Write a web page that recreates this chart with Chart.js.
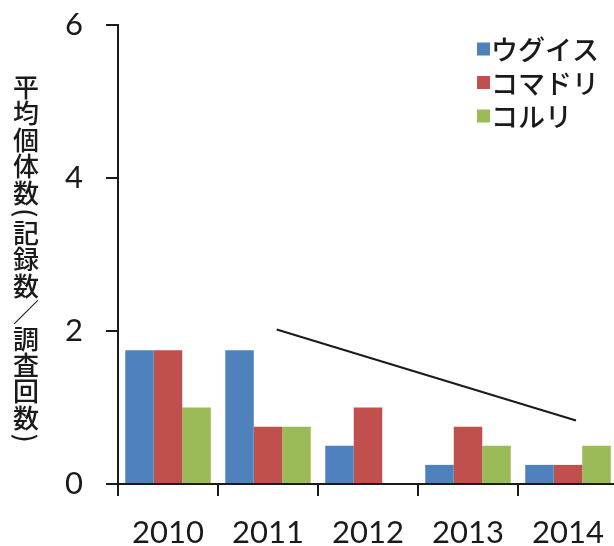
<!DOCTYPE html>
<html>
<head>
<meta charset="utf-8">
<script src="https://cdn.jsdelivr.net/npm/chart.js@4"></script>
<style>
  html, body { margin: 0; padding: 0; background: #fff; overflow: hidden; }
  #wrap { width: 614px; height: 546px; overflow: hidden; }
  canvas { display: block; }
</style>
</head>
<body>
<div id="wrap"><canvas id="c" width="620" height="546"></canvas></div>
<script>
// Survey years and average counts per survey for each species
const years = ['2010', '2011', '2012', '2013', '2014'];
const uguisu = [1.75, 1.75, 0.5, 0.25, 0.25];
const komadori = [1.75, 0.75, 1.0, 0.75, 0.25];
const koruri = [1.0, 0.75, 0, 0.5, 0.5];
const speciesNames = ['ウグイス', 'コマドリ', 'コルリ'];
const yTicks = [0, 2, 4, 6];
// Declining trend line (position along the year axis, value)
const trendX = [1.087, 4.08];
const trendY = [2.02, 0.83];
const yTitle = '平均個体数（記録数／調査回数）';

const colors = ['#4F81BD', '#C0504D', '#9BBB59'];
const ink = '#1a1a1a';

// Year axis is numeric (0..4) so the trend line can sit between years
const yearPoints = (values) => values.map((v, i) => ({ x: i, y: v }));

// Vertical Japanese axis title, one character per step
const yTitlePlugin = {
  id: 'yTitle',
  afterDraw(chart) {
    const ctx = chart.ctx;
    ctx.save();
    ctx.fillStyle = ink;
    ctx.font = '500 26px "Noto Sans CJK JP"';
    ctx.textAlign = 'center';
    ctx.textBaseline = 'middle';
    const cx = 26;
    let y = 74;
    for (const ch of yTitle) {
      const paren = ch === '（' || ch === '）';
      const step = paren ? 14 : 26.4;
      const mid = y + step / 2;
      if (paren) {
        ctx.save();
        ctx.translate(cx, mid);
        ctx.rotate(Math.PI / 2);
        ctx.fillText(ch === '（' ? '(' : ')', 0, 0);
        ctx.restore();
      } else {
        ctx.fillText(ch, cx, mid);
      }
      y += step;
    }
    ctx.restore();
  }
};

// Legend boxes in the upper right corner of the plot
const legendPlugin = {
  id: 'cornerLegend',
  afterDraw(chart) {
    const ctx = chart.ctx;
    ctx.save();
    ctx.font = '500 27px "Noto Sans CJK JP"';
    ctx.textBaseline = 'middle';
    ctx.textAlign = 'left';
    const bars = chart.data.datasets.filter(d => d.type === 'bar');
    bars.forEach((ds, i) => {
      const cy = 49 + i * 33.5;
      ctx.fillStyle = ds.backgroundColor;
      ctx.fillRect(477, cy - 6.5, 13, 13);
      ctx.fillStyle = ink;
      ctx.fillText(ds.label, 491, cy + 1);
    });
    ctx.restore();
  }
};

new Chart(document.getElementById('c'), {
  data: {
    datasets: [
      { type: 'bar', label: speciesNames[0], data: yearPoints(uguisu), backgroundColor: colors[0] },
      { type: 'bar', label: speciesNames[1], data: yearPoints(komadori), backgroundColor: colors[1] },
      { type: 'bar', label: speciesNames[2], data: yearPoints(koruri), backgroundColor: colors[2] },
      {
        type: 'line', label: 'trend',
        data: trendX.map((x, i) => ({ x: x, y: trendY[i] })),
        borderColor: ink, borderWidth: 2, pointRadius: 0, fill: false
      }
    ]
  },
  options: {
    responsive: false,
    animation: false,
    layout: { padding: { top: 25, right: 2, bottom: 0, left: 0 } },
    plugins: { legend: { display: false }, tooltip: { enabled: false } },
    datasets: { bar: { categoryPercentage: 0.855, barPercentage: 1.0 } },
    scales: {
      x: {
        type: 'linear',
        min: -0.5, max: 4.5,
        offset: false,
        afterBuildTicks(scale) { scale.ticks = years.map((_, i) => ({ value: i })); },
        grid: { offset: true, drawOnChartArea: false, drawTicks: true, tickLength: 12, color: ink, lineWidth: 2 },
        border: { display: true, color: ink, width: 2 },
        ticks: {
          color: ink, font: { family: 'Lato', size: 31 }, padding: 18, maxRotation: 0,
          callback: (v) => years[v]
        },
        afterFit(scale) {
          scale.height = 62;
          scale.paddingLeft = 0; scale.paddingRight = 0;
        }
      },
      y: {
        min: 0, max: 6,
        afterBuildTicks(scale) { scale.ticks = yTicks.map(v => ({ value: v })); },
        grid: { drawOnChartArea: false, drawTicks: true, tickLength: 12, color: ink, lineWidth: 2 },
        border: { display: true, color: ink, width: 2 },
        ticks: { color: ink, font: { family: 'Lato', size: 31 }, padding: 23 },
        afterFit(scale) {
          scale.width = 118;
          scale.paddingTop = 0; scale.paddingBottom = 0;
        }
      }
    }
  },
  plugins: [yTitlePlugin, legendPlugin]
});
</script>
</body>
</html>
